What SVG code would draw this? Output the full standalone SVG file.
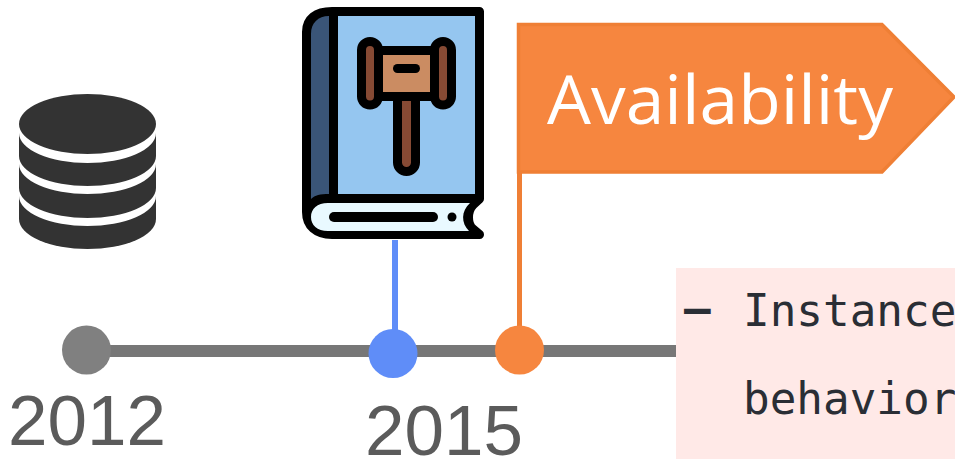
<svg xmlns="http://www.w3.org/2000/svg" width="955" height="459" viewBox="0 0 955 459">
<style>
.year{font-family:"Liberation Sans",Arial,sans-serif;font-size:71px;fill:#5b5b5b}
.mono{font-family:"DejaVu Sans Mono",monospace;font-size:44.300px;fill:#2a2e35}
.flagtext{font-family:"Open Sans",sans-serif;font-size:68px;fill:#fff}
.k{stroke:#000;stroke-width:9;stroke-linejoin:round;stroke-linecap:round}
.gap{fill:#fff}
</style>
<rect width="955" height="459" fill="#fff"/>
<g id="connectors">
<rect x="104" y="345" width="572" height="12" fill="#777"/>
<rect x="392" y="240" width="6" height="92" fill="#5f8df8"/>
<rect x="517" y="173" width="5" height="155" fill="#ef7f35"/>
</g>
<g id="database">
<path d="M19 124A68.500 30 0 0 1 156 124V219A68.500 30 0 0 1 19 219Z" fill="#333"/>
<path class="gap" d="M19 124A68.500 30 0 0 0 156 124V133A68.500 30 0 0 1 19 133Z"/>
<path class="gap" d="M19 156A68.500 30 0 0 0 156 156V164A68.500 30 0 0 1 19 164Z"/>
<path class="gap" d="M19 188A68.500 30 0 0 0 156 188V196A68.500 30 0 0 1 19 196Z"/>
</g>
<g id="law-book">
<path class="k" d="M332 11.500H479.500V199L473 205C467 211 467 224 473 229L479.500 234.500H332C316 234.500 306.500 226 306.500 212V32C306.500 19 316 11.500 332 11.500Z" fill="#000"/>
<rect x="338" y="16" width="137" height="178" fill="#95c6f0"/>
<path d="M329 16V194C320 194 315 195 311 199V34C311 23 318 16 329 16Z" fill="#3a5578"/>
<path d="M328 203H470C461 211 461 223 469 231H328C317 231 311 225 311 217S317 203 328 203Z" fill="#e9f9ff"/>
<rect x="329" y="212" width="109" height="10" rx="5" fill="#000"/>
<circle cx="452" cy="217" r="4.500" fill="#000"/>
<g class="k">
<rect x="397.500" y="92" width="18" height="79.500" rx="9" fill="#864a34"/>
<rect x="378.500" y="50.500" width="56" height="46" fill="#cb8c62"/>
<rect x="361.500" y="41.500" width="17" height="63.500" rx="8.500" fill="#864a34"/>
<rect x="434.500" y="41.500" width="17" height="63.500" rx="8.500" fill="#864a34"/>
</g>
<rect x="393" y="64" width="27" height="9" rx="4.500" fill="#000"/>
</g>
<g id="availability-flag">
<path d="M518.500 24.500H882L954 97L882 172H518.500Z" fill="#f6863f" stroke="#ef7f35" stroke-width="3.500"/>
<text class="flagtext" x="547" y="124" textLength="346" lengthAdjust="spacingAndGlyphs">Availability</text>
</g>
<g id="note">
<rect x="676" y="268" width="279" height="191" fill="#ffe9e7"/>
<text class="mono" y="326"><tspan x="684" dy="-2" font-weight="bold">–</tspan><tspan x="743" dy="2">Instance</tspan></text>
<text class="mono" x="743" y="414">behavior</text>
</g>
<g id="year-2012">
<circle cx="86.500" cy="350" r="24.500" fill="#808080"/>
<text class="year" x="8" y="445">2012</text>
</g>
<g id="year-2015">
<circle cx="393" cy="353.500" r="24.500" fill="#5f8df8"/>
<text class="year" x="365" y="455">2015</text>
</g>
<g id="event-availability">
<circle cx="519.500" cy="350" r="24.500" fill="#f6863f"/>
</g>
</svg>
